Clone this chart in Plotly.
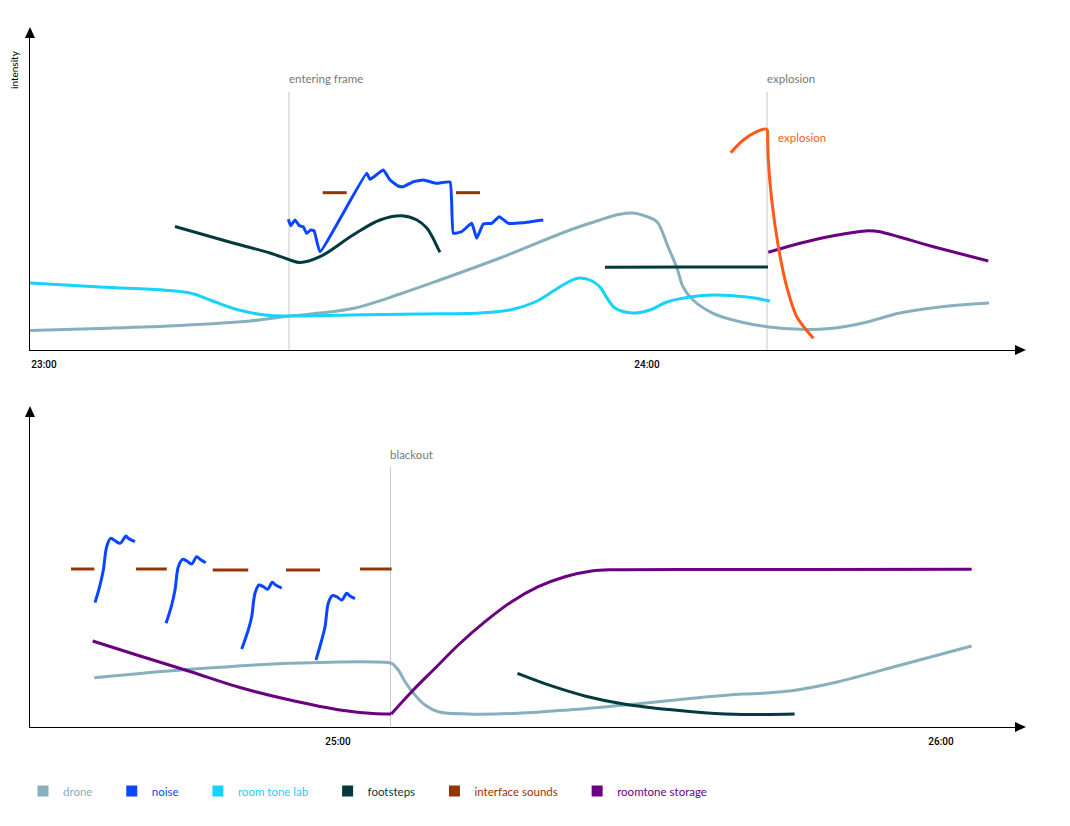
import plotly.graph_objects as go

W, H = 1070, 826

# ---------------- colours ----------------
C_DRONE = "#86b0bd"
C_NOISE = "#0a46ff"
C_ROOMLAB = "#16d3fb"
C_FOOT = "#023a40"
C_IFACE = "#963400"
C_STORAGE = "#6a0080"
C_EXPL = "#ff5a1a"
C_EVENT = "#c8c8c8"
C_EVTXT = "#777777"

# ---------------- data: top panel (minutes after 23:00) ----------------
drone_top_t = [-1.39, 5.57, 13.53, 20.5, 24.48, 27.46, 30.95, 35.42, 39.4, 45.37, 52.34, 55.32, 57.3,
               58.61, 60.0, 60.99, 62.09, 62.99, 63.58, 64.58, 66.57, 69.25, 71.94, 75.22, 78.21,
               81.49, 85.17, 89.15, 94.03]
drone_top_v = [6.09, 6.72, 7.66, 9.06, 10.63, 11.56, 13.13, 17.5, 21.88, 28.75, 37.5, 40.63, 42.4,
               42.81, 41.66, 40.09, 32.28, 25.53, 19.78, 15.63, 11.47, 8.84, 7.28, 6.47, 6.72,
               8.44, 11.56, 13.44, 14.69]

roomlab_top_t = [-1.39, 5.57, 14.53, 16.52, 19.0, 21.99, 24.38, 30.45, 37.41, 43.38, 46.37, 48.86,
                 50.85, 52.34, 53.33, 54.53, 55.32, 56.02, 56.82, 58.61, 60.3, 61.99, 64.28, 66.57,
                 69.95, 72.24]
roomlab_top_v = [20.94, 19.69, 17.81, 15.63, 12.81, 10.94, 10.63, 10.94, 11.25, 11.56, 12.5, 15.0,
                 18.75, 21.56, 22.5, 21.56, 19.69, 16.25, 13.13, 11.56, 12.5, 15.0, 16.56, 17.19,
                 16.56, 15.31]

foot_top_t = [13.03, 18.81, 22.49, 24.48, 25.47, 27.46, 30.75, 33.43, 35.62, 37.11, 38.11, 38.71,
              39.2, 39.4, None, 55.82, 64.0, 72.04]
foot_top_v = [38.59, 33.44, 30.31, 28.13, 27.34, 29.16, 35.94, 40.63, 41.97, 40.63, 38.03, 34.91,
              31.78, 30.53, None, 25.84, 25.9, 25.95]

iface_top_t = [27.73, 30.12, None, 41.0, 43.38]
iface_top_v = [49.16, 49.16, None, 49.16, 49.16]

noise_top_t = [24.31, 24.55, 24.98, 25.4, 25.8, 26.14, 26.54, 26.87, 27.46, 32.11, 32.44, 33.76,
               34.43, 35.25, 35.75, 36.75, 37.74, 39.07, 40.4, 40.73, 41.56, 42.56, 43.05, 43.71,
               44.55, 45.3, 46.2, 47.69, 49.68]
noise_top_v = [40.84, 38.84, 40.63, 38.84, 38.53, 36.47, 37.5, 37.28, 30.72, 55.22, 53.34, 56.25,
               53.13, 51.25, 51.03, 52.59, 53.13, 52.09, 52.5, 36.47, 36.97, 39.59, 34.91, 39.38,
               39.59, 41.66, 39.59, 39.78, 40.63]

# rise, then (after the gap) the drop from the same peak
expl_t = [68.33, 69.58, 70.92, 71.74, 71.99, None, 71.99, 72.07, 72.41, 73.07, 73.9, 74.9, 76.55]
expl_v = [61.66, 65.63, 68.22, 69.06, 68.9, None, 68.9, 59.38, 46.88, 32.28, 19.78, 10.41, 3.66]

storage_top_t = [72.07, 75.22, 78.54, 81.19, 82.02, 83.18, 88.49, 93.96]
storage_top_v = [30.53, 33.34, 35.72, 37.03, 37.28, 36.97, 32.28, 27.81]

# ---------------- data: bottom panel (minutes after 23:00) ----------------
iface_bot_t = [93.43, 95.75, None, 99.9, 102.96, None, 107.53, 111.07, None, 114.83, 118.21,
               None, 122.19, 125.34]
iface_bot_v = [49.53, 49.53, None, 49.53, 49.53, None, 49.22, 49.22, None, 49.22, 49.22,
               None, 49.53, 49.53]

noise_bot_t = [95.82, 96.32, 96.65, 96.98, 97.38, 97.71, 98.31, 98.91, 99.13, 99.8, None,
               102.89, 103.45, 103.78, 104.11, 104.55, 104.95, 105.44, 105.94, 106.27, 106.84, None,
               110.42, 111.07, 111.41, 111.74, 112.14, 112.57, 113.0, 113.46, 113.8, 114.4, None,
               117.81, 118.38, 118.71, 119.03, 119.43, 119.87, 120.37, 120.87, 121.19, 121.69]
noise_bot_v = [38.97, 44.51, 49.22, 56.52, 59.15, 58.62, 57.59, 59.87, 59.15, 58.09, None,
               32.51, 38.24, 42.95, 50.25, 52.57, 52.04, 51.1, 53.39, 52.57, 51.5, None,
               24.45, 30.41, 34.58, 41.91, 44.51, 43.98, 43.17, 45.36, 44.51, 43.57, None,
               21.0, 27.27, 31.44, 38.78, 41.16, 40.85, 39.81, 41.91, 41.07, 40.22]

drone_bot_t = [95.75, 105.27, 115.22, 124.68, 125.34, 126.0, 126.67, 127.66, 128.66, 129.98, 132.97,
               137.94, 142.92, 148.56, 155.27, 160.25, 162.32, 165.64, 169.78, 176.0, 183.05]
drone_bot_v = [15.45, 18.09, 19.97, 20.28, 19.97, 17.87, 14.2, 10.03, 6.9, 4.8, 4.08,
               4.29, 5.33, 6.9, 9.0, 10.34, 10.56, 11.6, 14.2, 19.44, 25.39]

foot_bot_t = [137.86, 141.33, 144.65, 148.56, 155.27, 159.42, 165.43]
foot_bot_v = [16.83, 12.79, 9.66, 7.15, 4.8, 3.98, 4.08]

# falling part, then (after the gap) the rise from the same blackout low point
storage_bot_t = [95.59, 100.3, 105.27, 110.25, 115.22, 120.2, 123.48, 125.3, None,
                 125.3, 127.33, 129.65, 131.97, 134.63, 137.28, 139.93, 142.59, 145.24, 147.23,
                 148.56, 156.02, 165.97, 183.05]
storage_bot_v = [26.96, 22.26, 17.4, 12.38, 8.46, 5.33, 4.23, 4.1, None,
                 4.1, 11.07, 18.4, 25.71, 33.01, 39.28, 43.98, 47.12, 48.9, 49.31,
                 49.31, 49.37, 49.4, 49.44]

# events
events_top = [("entering frame", 24.38), ("explosion", 71.94)]
events_bot = [("blackout", 125.22)]

tick_top_vals = [0, 60]
tick_top_text = ["23:00", "24:00"]
tick_bot_vals = [120, 180]
tick_bot_text = ["25:00", "26:00"]

legend_names = ["drone", "noise", "room tone lab", "footsteps", "interface sounds", "roomtone storage"]
legend_colors = [C_DRONE, C_NOISE, C_ROOMLAB, C_FOOT, C_IFACE, C_STORAGE]

FONT = "Lato"
FS = 11.5

fig = go.Figure()


def line(x, y, color, axis, shape="spline", smoothing=1.0, width=3):
    fig.add_trace(go.Scatter(
        x=x, y=y, mode="lines", xaxis="x" if axis == 1 else "x2", yaxis="y" if axis == 1 else "y2",
        line=dict(color=color, width=width, shape=shape, smoothing=smoothing if shape == "spline" else None),
        showlegend=False, hoverinfo="skip", connectgaps=False))


# top panel
line(drone_top_t, drone_top_v, C_DRONE, 1)
line(roomlab_top_t, roomlab_top_v, C_ROOMLAB, 1)
line(foot_top_t, foot_top_v, C_FOOT, 1)
line(iface_top_t, iface_top_v, C_IFACE, 1, shape="linear")
line(noise_top_t, noise_top_v, C_NOISE, 1, smoothing=0.35)
line(storage_top_t, storage_top_v, C_STORAGE, 1, smoothing=0.6)
line(expl_t, expl_v, C_EXPL, 1, smoothing=0.8)

# bottom panel
line(drone_bot_t, drone_bot_v, C_DRONE, 2)
line(foot_bot_t, foot_bot_v, C_FOOT, 2)
line(storage_bot_t, storage_bot_v, C_STORAGE, 2, smoothing=1.0)
line(iface_bot_t, iface_bot_v, C_IFACE, 2, shape="linear")
line(noise_bot_t, noise_bot_v, C_NOISE, 2, smoothing=0.9)

# legend entries (trailing spaces widen the gap between items)
for name, col in zip(legend_names, legend_colors):
    fig.add_trace(go.Scatter(
        x=[None], y=[None], mode="markers", xaxis="x", yaxis="y",
        marker=dict(symbol="square", size=11, color=col),
        name=f'<span style="color:{col}">{name}\u2003\u2002</span>', hoverinfo="skip"))

shapes = []
annotations = []


def add_events(events, xref, yref, top_v, label_v):
    for label, t in events:
        shapes.append(dict(type="line", xref=xref, yref=yref, x0=t, x1=t, y0=0, y1=top_v,
                           line=dict(color=C_EVENT, width=1), layer="below"))
        annotations.append(dict(x=t, y=label_v, xref=xref, yref=yref, text=label, showarrow=False,
                                xanchor="left", yanchor="middle", xshift=-2,
                                font=dict(family=FONT, size=FS, color=C_EVTXT)))


add_events(events_top, "x", "y", 80.6, 84.7)
add_events(events_bot, "x2", "y2", 81.5, 85.3)

annotations.append(dict(x=72.0 + 0.8, y=66.4, xref="x", yref="y", text="explosion", showarrow=False,
                        xanchor="left", yanchor="middle", font=dict(family=FONT, size=FS, color=C_EXPL)))
annotations.append(dict(x=14 / W, y=1 - 70 / H, xref="paper", yref="paper", text="intensity",
                        textangle=-90, showarrow=False, xanchor="center", yanchor="middle",
                        font=dict(family=FONT, size=10, color="#000000")))


def P(x, y):
    return f"{x / W:.5f},{1 - y / H:.5f}"


for (tx, ty, kind) in [(30, 27, "up"), (1026, 350, "right"), (30, 406, "up"), (1026, 727, "right")]:
    if kind == "up":
        path = f"M{P(tx, ty)} L{P(tx - 5, ty + 11)} L{P(tx + 5, ty + 11)} Z"
    else:
        path = f"M{P(tx, ty)} L{P(tx - 11, ty - 5)} L{P(tx - 11, ty + 5)} Z"
    shapes.append(dict(type="path", xref="paper", yref="paper", path=path,
                       fillcolor="#000000", line=dict(width=0)))

axis_common = dict(showgrid=False, zeroline=False, showline=True, linecolor="#000000", linewidth=1.2,
                   ticks="", fixedrange=True)
tickfont = dict(family="Roboto", size=10, color="#000000", weight=500)
xdom = [30 / W, 1018 / W]

fig.update_layout(
    width=W, height=H, margin=dict(l=0, r=0, t=0, b=0),
    paper_bgcolor="white", plot_bgcolor="white",
    xaxis=dict(domain=xdom, range=[-1.393, 96.915], anchor="y", tickvals=tick_top_vals,
               ticktext=tick_top_text, tickfont=tickfont, ticklabelstandoff=5, **axis_common),
    yaxis=dict(domain=[1 - 350 / H, 1 - 30 / H], range=[0, 100], anchor="x", showticklabels=False,
               **axis_common),
    xaxis2=dict(domain=xdom, range=[89.353, 187.662], anchor="y2", tickvals=tick_bot_vals,
                ticktext=tick_bot_text, tickfont=tickfont, ticklabelstandoff=5, **axis_common),
    yaxis2=dict(domain=[1 - 727 / H, 1 - 408 / H], range=[0, 100], anchor="x2", showticklabels=False,
                **axis_common),
    showlegend=True,
    legend=dict(orientation="h", x=23 / W, xanchor="left", y=1 - 791 / H, yanchor="middle",
                itemwidth=30, font=dict(family=FONT, size=FS), bgcolor="rgba(0,0,0,0)",
                itemclick=False, itemdoubleclick=False),
    shapes=shapes, annotations=annotations,
    hovermode=False,
)

fig.write_html("out.html", config={"displayModeBar": False},
               post_script="document.body.style.margin='0';")
